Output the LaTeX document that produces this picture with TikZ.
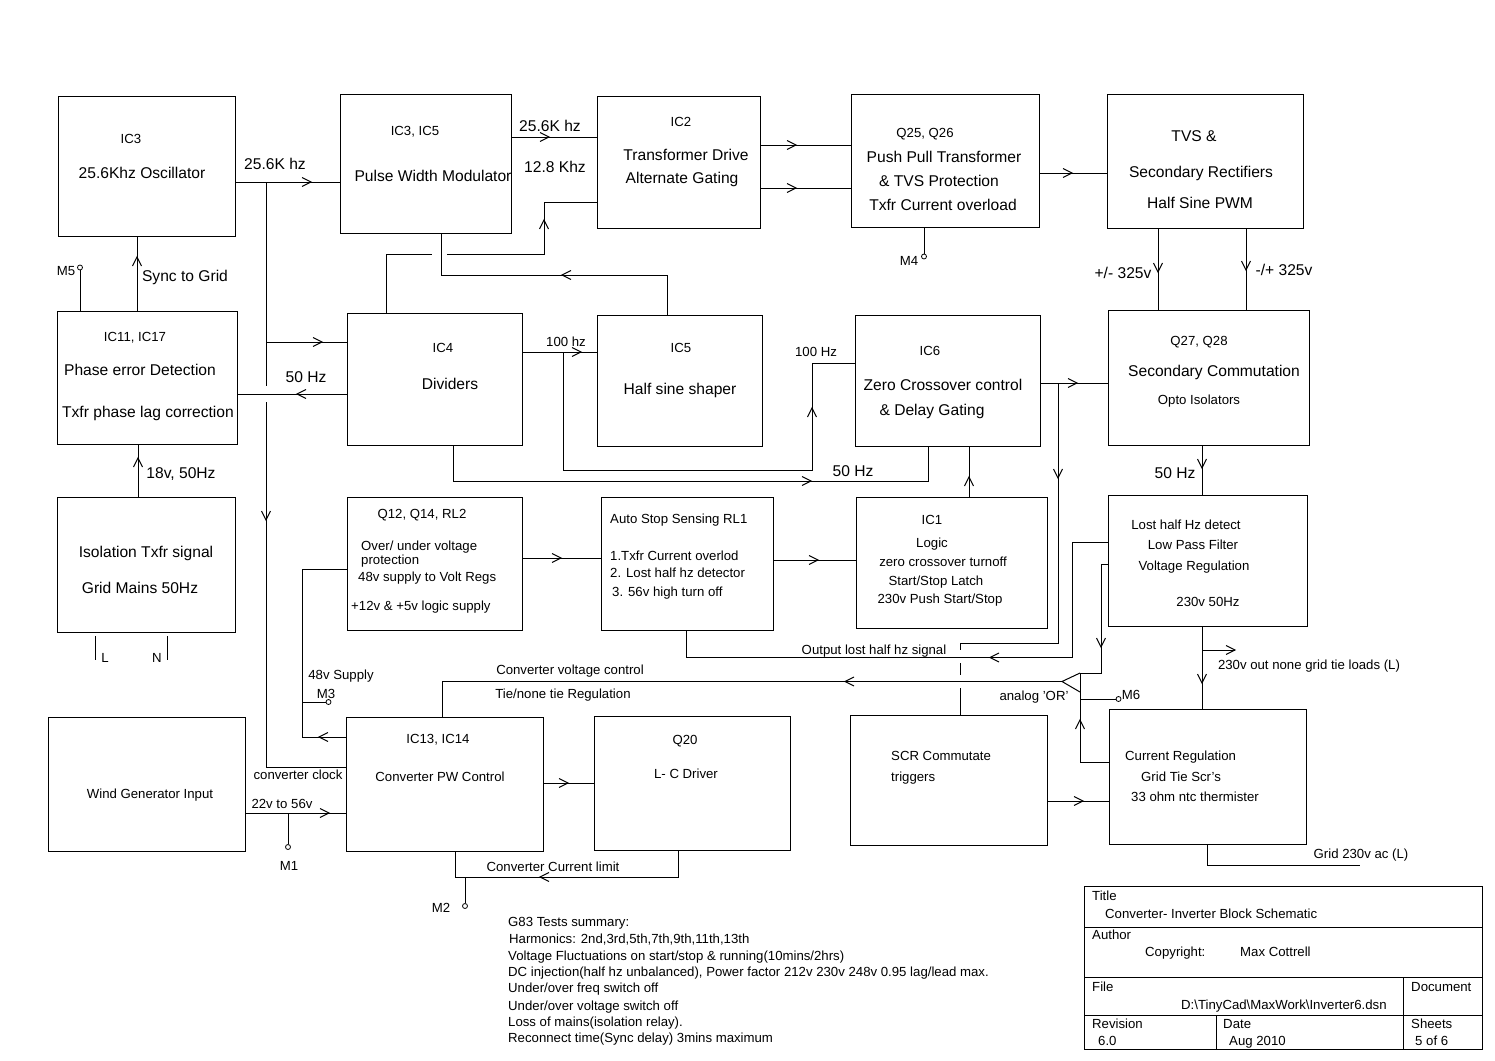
\documentclass[tikz,border=0pt]{standalone}
\usepackage{fontspec}
\setmainfont{Liberation Sans}
\newcommand{\chevr}[3]{\draw[wire,shift={(#1,#2)},rotate=#3] (-9,-4.5) -- (0,0) -- (-9,4.5);}
\begin{document}
\begin{tikzpicture}[x=1pt,y=-1pt,
  blk/.style={draw, rectangle, inner sep=0pt, outer sep=0pt, anchor=north west, line width=1pt},
  wire/.style={line width=1pt},
  big/.style={font=\fontsize{15.6}{18}\selectfont, inner sep=0pt, text height=0.72em, text depth=0.2em, yshift=-3pt},
  sml/.style={font=\fontsize{13.2}{15}\selectfont, inner sep=0pt, text height=0.72em, text depth=0.2em, yshift=-3pt},
  tp/.style={draw, circle, line width=0.8pt, inner sep=0pt, minimum size=5pt}]
\useasboundingbox (0,0) rectangle (1495,1060);
\fill[white] (0,0) rectangle (1495,1060);

% ---------- boxes ----------
\node[blk, minimum width=177, minimum height=140] (osc)   at (58,96) {};
\node[blk, minimum width=171, minimum height=139] (pwm)   at (340,94) {};
\node[blk, minimum width=163, minimum height=132] (ic2)   at (597,96) {};
\node[blk, minimum width=188, minimum height=133] (q25)   at (851,94) {};
\node[blk, minimum width=196, minimum height=134] (tvs)   at (1107,94) {};
\node[blk, minimum width=180, minimum height=133] (phase) at (57,311) {};
\node[blk, minimum width=175, minimum height=132] (div)   at (347,313) {};
\node[blk, minimum width=165, minimum height=131] (ic5)   at (597,315) {};
\node[blk, minimum width=185, minimum height=131] (ic6)   at (855,315) {};
\node[blk, minimum width=201, minimum height=135] (sec)   at (1108,310) {};
\node[blk, minimum width=178, minimum height=135] (iso)   at (57,497) {};
\node[blk, minimum width=175, minimum height=133] (q12)   at (347,497) {};
\node[blk, minimum width=172, minimum height=133] (auto)  at (601,497) {};
\node[blk, minimum width=191, minimum height=131] (logic) at (856,497) {};
\node[blk, minimum width=199, minimum height=131] (lost)  at (1108,495) {};
\node[blk, minimum width=197, minimum height=134] (wind)  at (48,717) {};
\node[blk, minimum width=197, minimum height=134] (conv)  at (346,717) {};
\node[blk, minimum width=196, minimum height=134] (q20)   at (594,716) {};
\node[blk, minimum width=197, minimum height=130] (scr)   at (850,715) {};
\node[blk, minimum width=197, minimum height=135] (cur)   at (1109,709) {};
\node[blk, minimum width=398, minimum height=163] (tb)    at (1084,886) {};

% ---------- box texts ----------
\node[sml] (a1) at (131,138) {IC3};
\node[big] (a2) at (142,173) {25.6Khz Oscillator};
\node[sml] (a3) at (415,130) {IC3, IC5};
\node[big] (a4) at (433,176) {Pulse Width Modulator};
\node[sml] (a5) at (681,121) {IC2};
\node[big] (a6) at (686,155) {Transformer Drive};
\node[big] (a7) at (682,178) {Alternate Gating};
\node[sml] (a8) at (925,132) {Q25, Q26};
\node[big] (a9) at (944,157) {Push Pull Transformer};
\node[big] (a10) at (939,181) {\& TVS Protection};
\node[big] (a11) at (943,205) {Txfr Current overload};
\node[big] (a12) at (1194,136) {TVS \&};
\node[big] (a13) at (1201,172) {Secondary Rectifiers};
\node[big] (a14) at (1200,203) {Half Sine PWM};
\node[sml] (a15) at (135,336) {IC11, IC17};
\node[big] (a16) at (140,370) {Phase error Detection};
\node[big] (a17) at (148,412) {Txfr phase lag correction};
\node[sml] (a18) at (443,347) {IC4};
\node[big] (a19) at (450,384) {Dividers};
\node[sml] (a20) at (681,347) {IC5};
\node[big] (a21) at (680,389) {Half sine shaper};
\node[sml] (a22) at (930,350) {IC6};
\node[big] (a23) at (943,385) {Zero Crossover control};
\node[big] (a24) at (932,410) {\& Delay Gating};
\node[sml] (a25) at (1199,340) {Q27, Q28};
\node[big] (a26) at (1214,371) {Secondary Commutation};
\node[sml] (a27) at (1199,399) {Opto Isolators};
\node[big] (a28) at (146,552) {Isolation Txfr signal};
\node[big] (a29) at (140,588) {Grid Mains 50Hz};
\node[sml] (a30) at (422,513) {Q12, Q14, RL2};
\node[sml,anchor=west] (a31) at (361,545) {Over/ under voltage};
\node[sml,anchor=west] (a32) at (361,559) {protection};
\node[sml,anchor=west] (a33) at (358,576) {48v supply to Volt Regs};
\node[sml,anchor=west] (a34) at (351,605) {+12v \& +5v logic supply};
\node[sml,anchor=west] (a35) at (610,518) {Auto Stop Sensing RL1};
\node[sml,anchor=west] (a36) at (610,555) {1.Txfr Current overlod};
\node[sml,anchor=west] (a37) at (610,572) {2. Lost half hz detector};
\node[sml,anchor=west] (a38) at (612,591) {3. 56v high turn off};
\node[sml] (a39) at (932,519) {IC1};
\node[sml] (a40) at (932,542) {Logic};
\node[sml] (a41) at (943,561) {zero crossover turnoff};
\node[sml] (a42) at (936,580) {Start/Stop Latch};
\node[sml] (a43) at (940,598) {230v Push Start/Stop};
\node[sml] (a44) at (1186,524) {Lost half Hz detect};
\node[sml] (a45) at (1193,544) {Low Pass Filter};
\node[sml] (a46) at (1194,565) {Voltage Regulation};
\node[sml] (a47) at (1208,601) {230v 50Hz};
\node[sml] (a48) at (150,793) {Wind Generator Input};
\node[sml] (a49) at (438,738) {IC13, IC14};
\node[sml] (a50) at (440,776) {Converter PW Control};
\node[sml] (a51) at (685,739) {Q20};
\node[sml] (a52) at (686,773) {L- C Driver};
\node[sml,anchor=west] (a53) at (891,755) {SCR Commutate};
\node[sml,anchor=west] (a54) at (891,776) {triggers};
\node[sml,anchor=west] (a55) at (1125,755) {Current Regulation};
\node[sml,anchor=west] (a56) at (1141,776) {Grid Tie Scr's};
\node[sml,anchor=west] (a57) at (1131,796) {33 ohm ntc thermister};

% ---------- connector labels ----------
\node[big] (b1) at (275,164) {25.6K hz};
\node[big] (b2) at (550,126) {25.6K hz};
\node[big] (b3) at (555,167) {12.8 Khz};
\node[sml] (b4) at (909,260) {M4};
\node[sml] (b5) at (66,270) {M5};
\node[big] (b6) at (185,276) {Sync to Grid};
\node[big] (b7) at (306,377) {50 Hz};
\node[sml] (b8) at (566,341) {100 hz};
\node[sml] (b9) at (816,351) {100 Hz};
\node[big] (b10) at (853,471) {50 Hz};
\node[big] (b11) at (1123,273) {+/- 325v};
\node[big] (b12) at (1284,270) {-/+ 325v};
\node[big] (b13) at (181,473) {18v, 50Hz};
\node[big] (b14) at (1175,473) {50 Hz};
\node[sml] (b15) at (105,657) {L};
\node[sml] (b16) at (157,657) {N};
\node[sml] (b17) at (341,674) {48v Supply};
\node[sml] (b18) at (326,693) {M3};
\node[sml] (b19) at (570,669) {Converter voltage control};
\node[sml] (b20) at (563,693) {Tie/none tie Regulation};
\node[sml] (b21) at (874,649) {Output lost half hz signal};
\node[sml] (b22) at (1034,695) {analog 'OR'};
\node[sml] (b23) at (1131,694) {M6};
\node[sml] (b24) at (1309,664) {230v out none grid tie loads (L)};
\node[sml] (b25) at (298,774) {converter clock};
\node[sml] (b26) at (282,803) {22v to 56v};
\node[sml] (b27) at (289,865) {M1};
\node[sml] (b28) at (1361,853) {Grid 230v ac (L)};
\node[sml] (b29) at (553,866) {Converter Current limit};
\node[sml] (b30) at (441,907) {M2};

% ---------- test points ----------
\node[tp] (m4) at (924,256.5) {};
\node[tp] (m5) at (80,267.5) {};
\node[tp] (m3) at (328.5,702) {};
\node[tp] (m1) at (288,847) {};
\node[tp] (m2) at (465,906) {};
\node[tp] (m6) at (1118.5,699) {};

% ---------- connectors ----------
\draw[wire] (osc.east |- 0,182) -- (pwm.west |- 0,182); \chevr{311}{182}{0}
\draw[wire] (266,182) -- (266,386);
\draw[wire] (266,402) -- (266,767) -- (conv.west |- 0,767); \chevr{266}{520}{270}
\draw[wire] (266,342) -- (div.west |- 0,342); \chevr{322}{342}{0}
\draw[wire] (div.west |- 0,394) -- (phase.east |- 0,394); \chevr{297}{394}{180}
\draw[wire] (pwm.east |- 0,137) -- (ic2.west |- 0,137); \chevr{549}{137}{0}
\draw[wire] (386,0 |- div.north) -- (386,254) -- (432,254);
\draw[wire] (447,254) -- (544,254) -- (544,202) -- (ic2.west |- 0,202); \chevr{544}{220}{90}
\draw[wire] (667,0 |- ic5.north) -- (667,275) -- (441,275) -- (441,0 |- pwm.south); \chevr{562}{275}{180}
\draw[wire] (ic2.east |- 0,145) -- (q25.west |- 0,145); \chevr{796}{145}{0}
\draw[wire] (ic2.east |- 0,188) -- (q25.west |- 0,188); \chevr{796}{188}{0}
\draw[wire] (q25.east |- 0,173) -- (tvs.west |- 0,173); \chevr{1072}{173}{0}
\draw[wire] (1158,0 |- tvs.south) -- (1158,0 |- sec.north); \chevr{1158}{272}{270}
\draw[wire] (1246,0 |- tvs.south) -- (1246,0 |- sec.north); \chevr{1246}{270}{270}
\draw[wire] (924,0 |- q25.south) -- (m4.north);
\draw[wire] (m5.south) -- (80,0 |- phase.north);
\draw[wire] (137,0 |- phase.north) -- (137,0 |- osc.south); \chevr{137}{257}{90}
\draw[wire] (138,0 |- iso.north) -- (138,0 |- phase.south); \chevr{138}{458}{90}
\draw[wire] (95,636) -- (95,660);
\draw[wire] (167,636) -- (167,660);
\draw[wire] (div.east |- 0,352) -- (ic5.west |- 0,352); \chevr{581}{352}{0}
\draw[wire] (563,352) -- (563,470) -- (812,470) -- (812,363) -- (ic6.west |- 0,363); \chevr{812}{408}{90}
\draw[wire] (453,0 |- div.south) -- (453,481) -- (928,481) -- (928,0 |- ic6.south); \chevr{811}{481}{0}
\draw[wire] (969,0 |- logic.north) -- (969,0 |- ic6.south); \chevr{969}{477}{90}
\draw[wire] (ic6.east |- 0,383) -- (sec.west |- 0,383); \chevr{1077}{383}{0}
\draw[wire] (1058,383) -- (1058,643) -- (960,643) -- (960,650); \chevr{1058}{478}{270}
\draw[wire] (960,663) -- (960,675);
\draw[wire] (960,688) -- (960,0 |- scr.north);
\draw[wire] (1202,0 |- sec.south) -- (1202,0 |- lost.north); \chevr{1202}{468}{270}
\draw[wire] (q12.east |- 0,558) -- (auto.west |- 0,558); \chevr{561}{558}{0}
\draw[wire] (auto.east |- 0,560) -- (logic.west |- 0,560); \chevr{818}{560}{0}
\draw[wire] (q12.west |- 0,569) -- (302.5,569) -- (302.5,737) -- (conv.west |- 0,737); \chevr{319}{737}{180}
\draw[wire] (302.5,702) -- (m3.west);
\draw[wire] (wind.east |- 0,813) -- (conv.west |- 0,813); \chevr{329}{813}{0}
\draw[wire] (288,813) -- (m1.north);
\draw[wire] (conv.east |- 0,783) -- (q20.west |- 0,783); \chevr{568}{783}{0}
\draw[wire] (678,0 |- q20.south) -- (678,877) -- (455,877) -- (455,0 |- conv.south); \chevr{540}{877}{180}
\draw[wire] (465,877) -- (m2.north);
\draw[wire] (442.5,0 |- conv.north) -- (442.5,681.5) -- (1062,681.5); \chevr{845}{681.5}{180}
\draw[wire] (686,0 |- auto.south) -- (686,657.5) -- (1072,657.5) -- (1072,542.5) -- (lost.west |- 0,542.5); \chevr{990}{657.5}{180}
\draw[wire] (lost.west |- 0,564) -- (1101,564) -- (1101,673) -- (1080,673); \chevr{1101}{647}{270}
\draw[wire] (1080,673) -- (1062,681.5) -- (1080,692);
\draw[wire] (1080,673) -- (1080,762) -- (cur.west |- 0,762); \chevr{1080}{720}{90}
\draw[wire] (1080,699) -- (m6.west);
\draw[wire] (scr.east |- 0,801) -- (cur.west |- 0,801); \chevr{1083}{801}{0}
\draw[wire] (1202,0 |- lost.south) -- (1202,0 |- cur.north); \chevr{1202}{683}{270}
\draw[wire] (1202,650) -- (1235,650); \chevr{1235}{650}{0}
\draw[wire] (1207,0 |- cur.south) -- (1207,865) -- (1360,865);

% ---------- title block ----------
\draw[wire] (tb.west |- 0,927) -- (tb.east |- 0,927);
\draw[wire] (tb.west |- 0,977) -- (tb.east |- 0,977);
\draw[wire] (tb.west |- 0,1015) -- (tb.east |- 0,1015);
\draw[wire] (1403,977) -- (1403,0 |- tb.south);
\draw[wire] (1216,1015) -- (1216,0 |- tb.south);
\node[sml,anchor=west] (c1) at (1092,895) {Title};
\node[sml,anchor=west] (c2) at (1105,913) {Converter- Inverter Block Schematic};
\node[sml,anchor=west] (c3) at (1092,934) {Author};
\node[sml,anchor=west] (c4) at (1145,951) {Copyright:};
\node[sml,anchor=west] (c5) at (1240,951) {Max Cottrell};
\node[sml,anchor=west] (c6) at (1092,986) {File};
\node[sml,anchor=west] (c7) at (1181,1004) {D:\textbackslash TinyCad\textbackslash MaxWork\textbackslash Inverter6.dsn};
\node[sml,anchor=west] (c8) at (1411,986) {Document};
\node[sml,anchor=west] (c9) at (1092,1023) {Revision};
\node[sml,anchor=west] (c10) at (1098,1040) {6.0};
\node[sml,anchor=west] (c11) at (1223,1023) {Date};
\node[sml,anchor=west] (c12) at (1229,1040) {Aug 2010};
\node[sml,anchor=west] (c13) at (1411,1023) {Sheets};
\node[sml,anchor=west] (c14) at (1415,1040) {5 of 6};

% ---------- notes ----------
\node[sml,anchor=west] (n1) at (508,921) {G83 Tests summary:};
\node[sml,anchor=west] (n2) at (509,938) {Harmonics: 2nd,3rd,5th,7th,9th,11th,13th};
\node[sml,anchor=west] (n3) at (508,955) {Voltage Fluctuations on start/stop \& running(10mins/2hrs)};
\node[sml,anchor=west] (n4) at (508,971) {DC injection(half hz unbalanced), Power factor 212v 230v 248v 0.95 lag/lead max.};
\node[sml,anchor=west] (n5) at (508,987) {Under/over freq switch off};
\node[sml,anchor=west] (n6) at (508,1005) {Under/over voltage switch off};
\node[sml,anchor=west] (n7) at (508,1021) {Loss of mains(isolation relay).};
\node[sml,anchor=west] (n8) at (508,1037) {Reconnect time(Sync delay) 3mins maximum};
\end{tikzpicture}
\end{document}
